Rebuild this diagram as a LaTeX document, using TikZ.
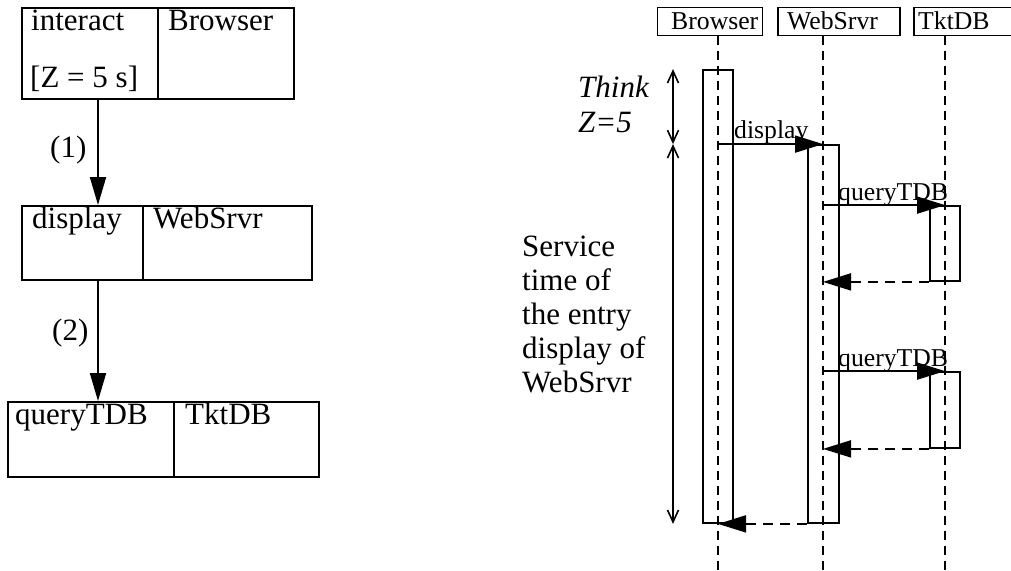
\documentclass[tikz,border=0pt]{standalone}
\usepackage{fontspec}
\setmainfont{Liberation Serif}
\usetikzlibrary{arrows.meta}
\begin{document}
\begin{tikzpicture}[x=1pt,y=-1pt,
  big/.style={font=\fontsize{31}{34}\selectfont, inner sep=0pt, anchor=base west},
  small/.style={font=\fontsize{25.7}{28}\selectfont, inner sep=0pt, anchor=base west},
  box/.style={draw, line width=2pt, rectangle, inner sep=0pt},
  hdr/.style={draw, line width=1.8pt, rectangle, inner sep=0pt, minimum height=28pt},
  act/.style={draw, line width=1.8pt, rectangle, inner sep=0pt},
  life/.style={line width=1.8pt, dash pattern=on 9pt off 6pt},
  flow/.style={line width=2pt, -{Triangle[length=28pt,width=16pt]}},
  msg/.style={line width=1.8pt, -{Triangle[length=28pt,width=17pt]}},
  ret/.style={line width=1.8pt, dash pattern=on 10pt off 7pt, -{Triangle[length=28pt,width=17pt]}},
  dbl/.style={line width=1.6pt, {Straight Barb[length=12pt,width=11pt]}-{Straight Barb[length=12pt,width=11pt]}}
]
\useasboundingbox (0,0) rectangle (1011,570);

% ---------- left: task graph ----------
\node[box, minimum width=272pt, minimum height=91pt] (b1) at (158,53.5) {};
\node[box, minimum width=290pt, minimum height=74pt] (b2) at (167,243) {};
\node[box, minimum width=311pt, minimum height=75pt] (b3) at (163.5,439.5) {};
\coordinate (d2) at (143,0);
\coordinate (d3) at (174,0);
\draw[line width=2pt] (b1.north) -- (b1.south);
\draw[line width=2pt] (d2 |- b2.north) -- (d2 |- b2.south);
\draw[line width=2pt] (d3 |- b3.north) -- (d3 |- b3.south);

\node[big] (t1a) at (31,30) {interact};
\node[big] (t1b) at (30,87) {[Z = 5 s]};
\node[big] (t1c) at (168,30) {Browser};
\node[big] (t2a) at (32,228) {display};
\node[big] (t2b) at (153,228) {WebSrvr};
\node[big] (t3a) at (15,424) {queryTDB};
\node[big] (t3b) at (185,424) {TktDB};

\coordinate (ax) at (98,0);
\draw[flow] (ax |- b1.south) -- (ax |- b2.north);
\draw[flow] (ax |- b2.south) -- (ax |- b3.north);
\node[big] (l1) at (50,157) {(1)};
\node[big] (l2) at (52,340) {(2)};

% ---------- right: sequence diagram ----------
\node[hdr, minimum width=105pt] (hB) at (710,21.5) {};
\node[hdr, minimum width=122pt] (hW) at (839,21.5) {};
\node[hdr, minimum width=100pt] (hT) at (964,21.5) {};
\node[small] (hBt) at (671,29) {Browser};
\node[small] (hWt) at (787,29) {WebSrvr};
\node[small] (hTt) at (918,29) {TktDB};

\coordinate (lB) at (718,35.5);
\coordinate (lW) at (823,35.5);
\coordinate (lT) at (945,35.5);
\coordinate (eB) at (718,572);
\coordinate (eW) at (823,572);
\coordinate (eT) at (945,572);
\draw[life] (lB) -- (eB);
\draw[life] (lW) -- (eW);
\draw[life] (lT) -- (eT);

\node[act, minimum width=30pt, minimum height=453pt] (aB) at (718,296.5) {};
\node[act, minimum width=31pt, minimum height=378pt] (aW) at (823.5,334) {};
\node[act, minimum width=30pt, minimum height=75pt] (aT1) at (945,243.5) {};
\node[act, minimum width=30pt, minimum height=76pt] (aT2) at (945,410) {};

\draw[msg] (lB |- aW.north) -- (lW |- aW.north);
\node[small] (m1) at (734,138) {display};
\draw[msg] (lW |- aT1.north) -- (lT |- aT1.north);
\node[small] (m2) at (838,200) {queryTDB};
\draw[ret] (aT1.south west) -- (lW |- aT1.south);
\draw[msg] (lW |- aT2.north) -- (lT |- aT2.north);
\node[small] (m3) at (838,366) {queryTDB};
\draw[ret] (aT2.south west) -- (lW |- aT2.south);
\draw[ret] (aW.south west) -- (lB |- aW.south);

\coordinate (mx) at (673,0);
\draw[dbl] (mx |- aB.north) -- (mx |- aW.north);
\draw[dbl] (mx |- aW.north) -- (mx |- aW.south);
\node[font=\fontsize{31}{35}\selectfont\itshape, inner sep=0pt, anchor=north west, align=left] (think) at (578,76) {Think\\Z=5};
\node[font=\fontsize{31}{34}\selectfont, inner sep=0pt, anchor=north west, align=left] (svc) at (522,236) {Service\\time of\\the entry\\display of\\WebSrvr};
\end{tikzpicture}
\end{document}
